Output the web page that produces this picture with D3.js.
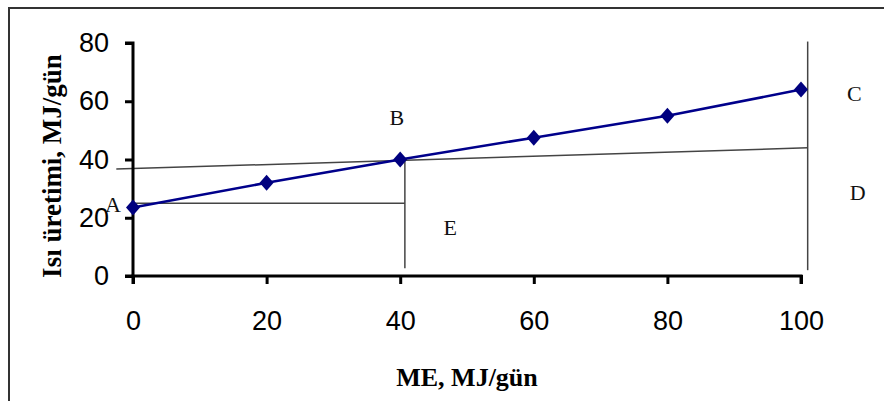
<!DOCTYPE html>
<html>
<head>
<meta charset="utf-8">
<script src="https://cdn.jsdelivr.net/npm/d3@7"></script>
<style>
  body { margin: 0; background: #fff; }
  svg { display: block; }
</style>
</head>
<body>
<div id="chart"></div>
<script>
// data
const meValues = [0, 20, 40, 60, 80, 100];
const heatValues = [23.5, 32, 40, 47.5, 55, 64];
const xTicks = [0, 20, 40, 60, 80, 100];
const yTicks = [0, 20, 40, 60, 80];

// helper lines (ME, heat) pairs
const lineAE = [[0, 25], [40.7, 25]];
const lineBE = [[40.7, 40], [40.7, 2.7]];
const lineSlope = [[-2.5, 36.7], [101, 44]];
const lineCD = [[101, 80.5], [101, 2]];

const letters = ["A", "B", "C", "D", "E"];
const letterX = [-3, 39.5, 108, 108.5, 47.5];
const letterY = [24.5, 54.5, 62.5, 28.5, 16.5];

const W = 884, H = 401;

const svg = d3.select("#chart").append("svg")
  .attr("width", W)
  .attr("height", H);

// outer frame (right/bottom run off the picture)
svg.append("rect")
  .attr("x", 9).attr("y", 8)
  .attr("width", 900).attr("height", 420)
  .attr("fill", "none")
  .attr("stroke", "#333")
  .attr("stroke-width", 2);

const x = d3.scaleLinear().domain([0, 100]).range([133, 801]);
const y = d3.scaleLinear().domain([0, 80]).range([276, 43]);

const g = svg.append("g");

// helper lines
const helper = d3.line().x(d => x(d[0])).y(d => y(d[1]));
[lineAE, lineBE, lineSlope, lineCD].forEach(l => {
  g.append("path")
    .attr("d", helper(l))
    .attr("fill", "none")
    .attr("stroke", "#444")
    .attr("stroke-width", 1.5);
});

// axes
const xAxis = d3.axisBottom(x).tickValues(xTicks).tickSize(8).tickPadding(27);
const yAxis = d3.axisLeft(y).tickValues(yTicks).tickSize(8).tickPadding(16);

const gx = svg.append("g").attr("transform", `translate(0,${y(0)})`).call(xAxis);
const gy = svg.append("g").attr("transform", `translate(${x(0)},0)`).call(yAxis);

[gx, gy].forEach(a => {
  a.select(".domain").attr("stroke", "#000").attr("stroke-width", 3);
  a.selectAll(".tick line").attr("stroke", "#000").attr("stroke-width", 3);
  a.selectAll(".tick text")
    .attr("fill", "#000")
    .style("font-family", "Arial, 'Liberation Sans', sans-serif")
    .style("font-size", "27px");
});
gx.select(".domain").attr("d", `M${x(0)},8V0H${x(100)}V8`);
gy.select(".domain").attr("d", `M-8,${y(80)}H0V${y(0)}H-8`);
gx.selectAll(".tick line").attr("y1", -1);

// series line
const line = d3.line().x((d, i) => x(meValues[i])).y(d => y(d));
svg.append("path")
  .datum(heatValues)
  .attr("d", line)
  .attr("fill", "none")
  .attr("stroke", "#00008b")
  .attr("stroke-width", 2.5);

// diamond markers
svg.selectAll(".pt")
  .data(heatValues)
  .enter()
  .append("path")
  .attr("class", "pt")
  .attr("d", "M0,-8L7,0L0,8L-7,0Z")
  .attr("transform", (d, i) => `translate(${x(meValues[i])},${y(d)})`)
  .attr("fill", "#00007f");

// letters
svg.selectAll(".lbl")
  .data(letters)
  .enter()
  .append("text")
  .attr("class", "lbl")
  .attr("x", (d, i) => x(letterX[i]))
  .attr("y", (d, i) => y(letterY[i]))
  .attr("text-anchor", "middle")
  .attr("dominant-baseline", "central")
  .style("font-family", "'Liberation Serif', 'Times New Roman', serif")
  .style("font-size", "22px")
  .attr("fill", "#111")
  .text(d => d);

// axis titles
svg.append("text")
  .attr("x", (x(0) + x(100)) / 2)
  .attr("y", 386)
  .attr("text-anchor", "middle")
  .style("font-family", "'Liberation Serif', 'Times New Roman', serif")
  .style("font-weight", "bold")
  .style("font-size", "26px")
  .text("ME, MJ/gün");

svg.append("text")
  .attr("transform", `translate(61,166) rotate(-90)`)
  .attr("text-anchor", "middle")
  .style("font-family", "'Liberation Serif', 'Times New Roman', serif")
  .style("font-weight", "bold")
  .style("font-size", "27px")
  .text("Isı üretimi, MJ/gün");
</script>
</body>
</html>
